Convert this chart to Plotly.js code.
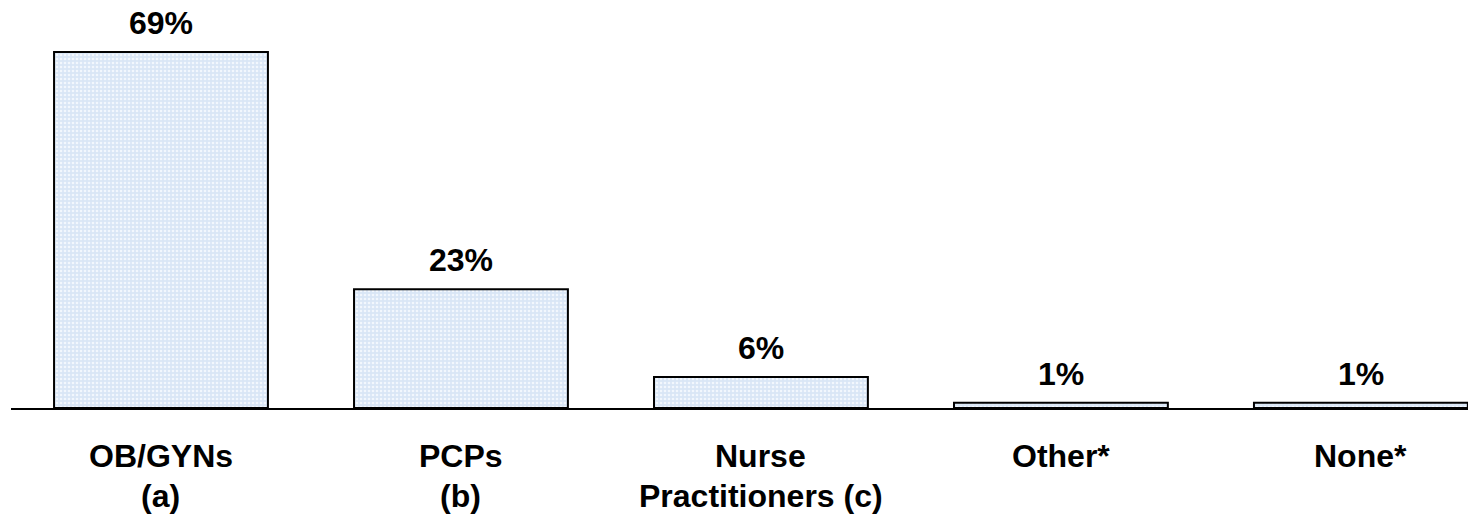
<!DOCTYPE html>
<html><head><meta charset="utf-8">
<script src="https://cdn.plot.ly/plotly-3.0.1.min.js"></script>
<style>body{margin:0;background:#fff}#c{width:1468px;height:520px}</style>
</head><body><div id="c"></div>
<script>
const categories = ["OB/GYNs<br>(a)", "PCPs<br>(b)", "Nurse<br>Practitioners (c)", "Other*", "None*"];
const values = [69, 23, 6, 1, 1];
const labels = ["69%", "23%", "6%", "1%", "1%"];

const FONT = 'Liberation Sans, Arial, sans-serif';
const xs = categories.map((_, i) => i);

const trace = {
  type: 'bar',
  x: xs,
  y: values,
  width: 0.713,
  marker: {
    color: '#dce8f7',
    line: {color: '#000', width: 2},
    pattern: {shape: '.', bgcolor: '#d9e6f6', fgcolor: '#f2f7fd', size: 4, solidity: 0.35}
  },
  hoverinfo: 'none'
};

const annotations = [];
values.forEach((v, i) => {
  annotations.push({
    x: i, y: v, xref: 'x', yref: 'y', text: labels[i], showarrow: false,
    yanchor: 'bottom', yshift: 9,
    font: {family: FONT, size: 32, color: '#000', weight: 'bold'}
  });
});
categories.forEach((c, i) => {
  c.split('<br>').forEach((line, j) => {
    annotations.push({
      x: i, y: 0, xref: 'x', yref: 'paper', text: line, showarrow: false,
      yanchor: 'middle', yshift: -48 - 40 * j,
      font: {family: FONT, size: 32, color: '#000', weight: 'bold'}
    });
  });
});

const layout = {
  width: 1468, height: 520,
  margin: {l: 11, r: 0, t: 21, b: 112},
  paper_bgcolor: '#fff', plot_bgcolor: '#fff',
  showlegend: false,
  xaxis: {
    range: [-0.5, 4.357],
    tickvals: xs,
    showticklabels: false,
    showgrid: false, zeroline: false,
    showline: true, linecolor: '#000', linewidth: 2,
    ticks: ''
  },
  yaxis: {
    range: [0, 75],
    visible: false, showgrid: false, zeroline: false
  },
  annotations: annotations
};
Plotly.newPlot('c', [trace], layout, {displayModeBar: false, staticPlot: true});
</script></body></html>
